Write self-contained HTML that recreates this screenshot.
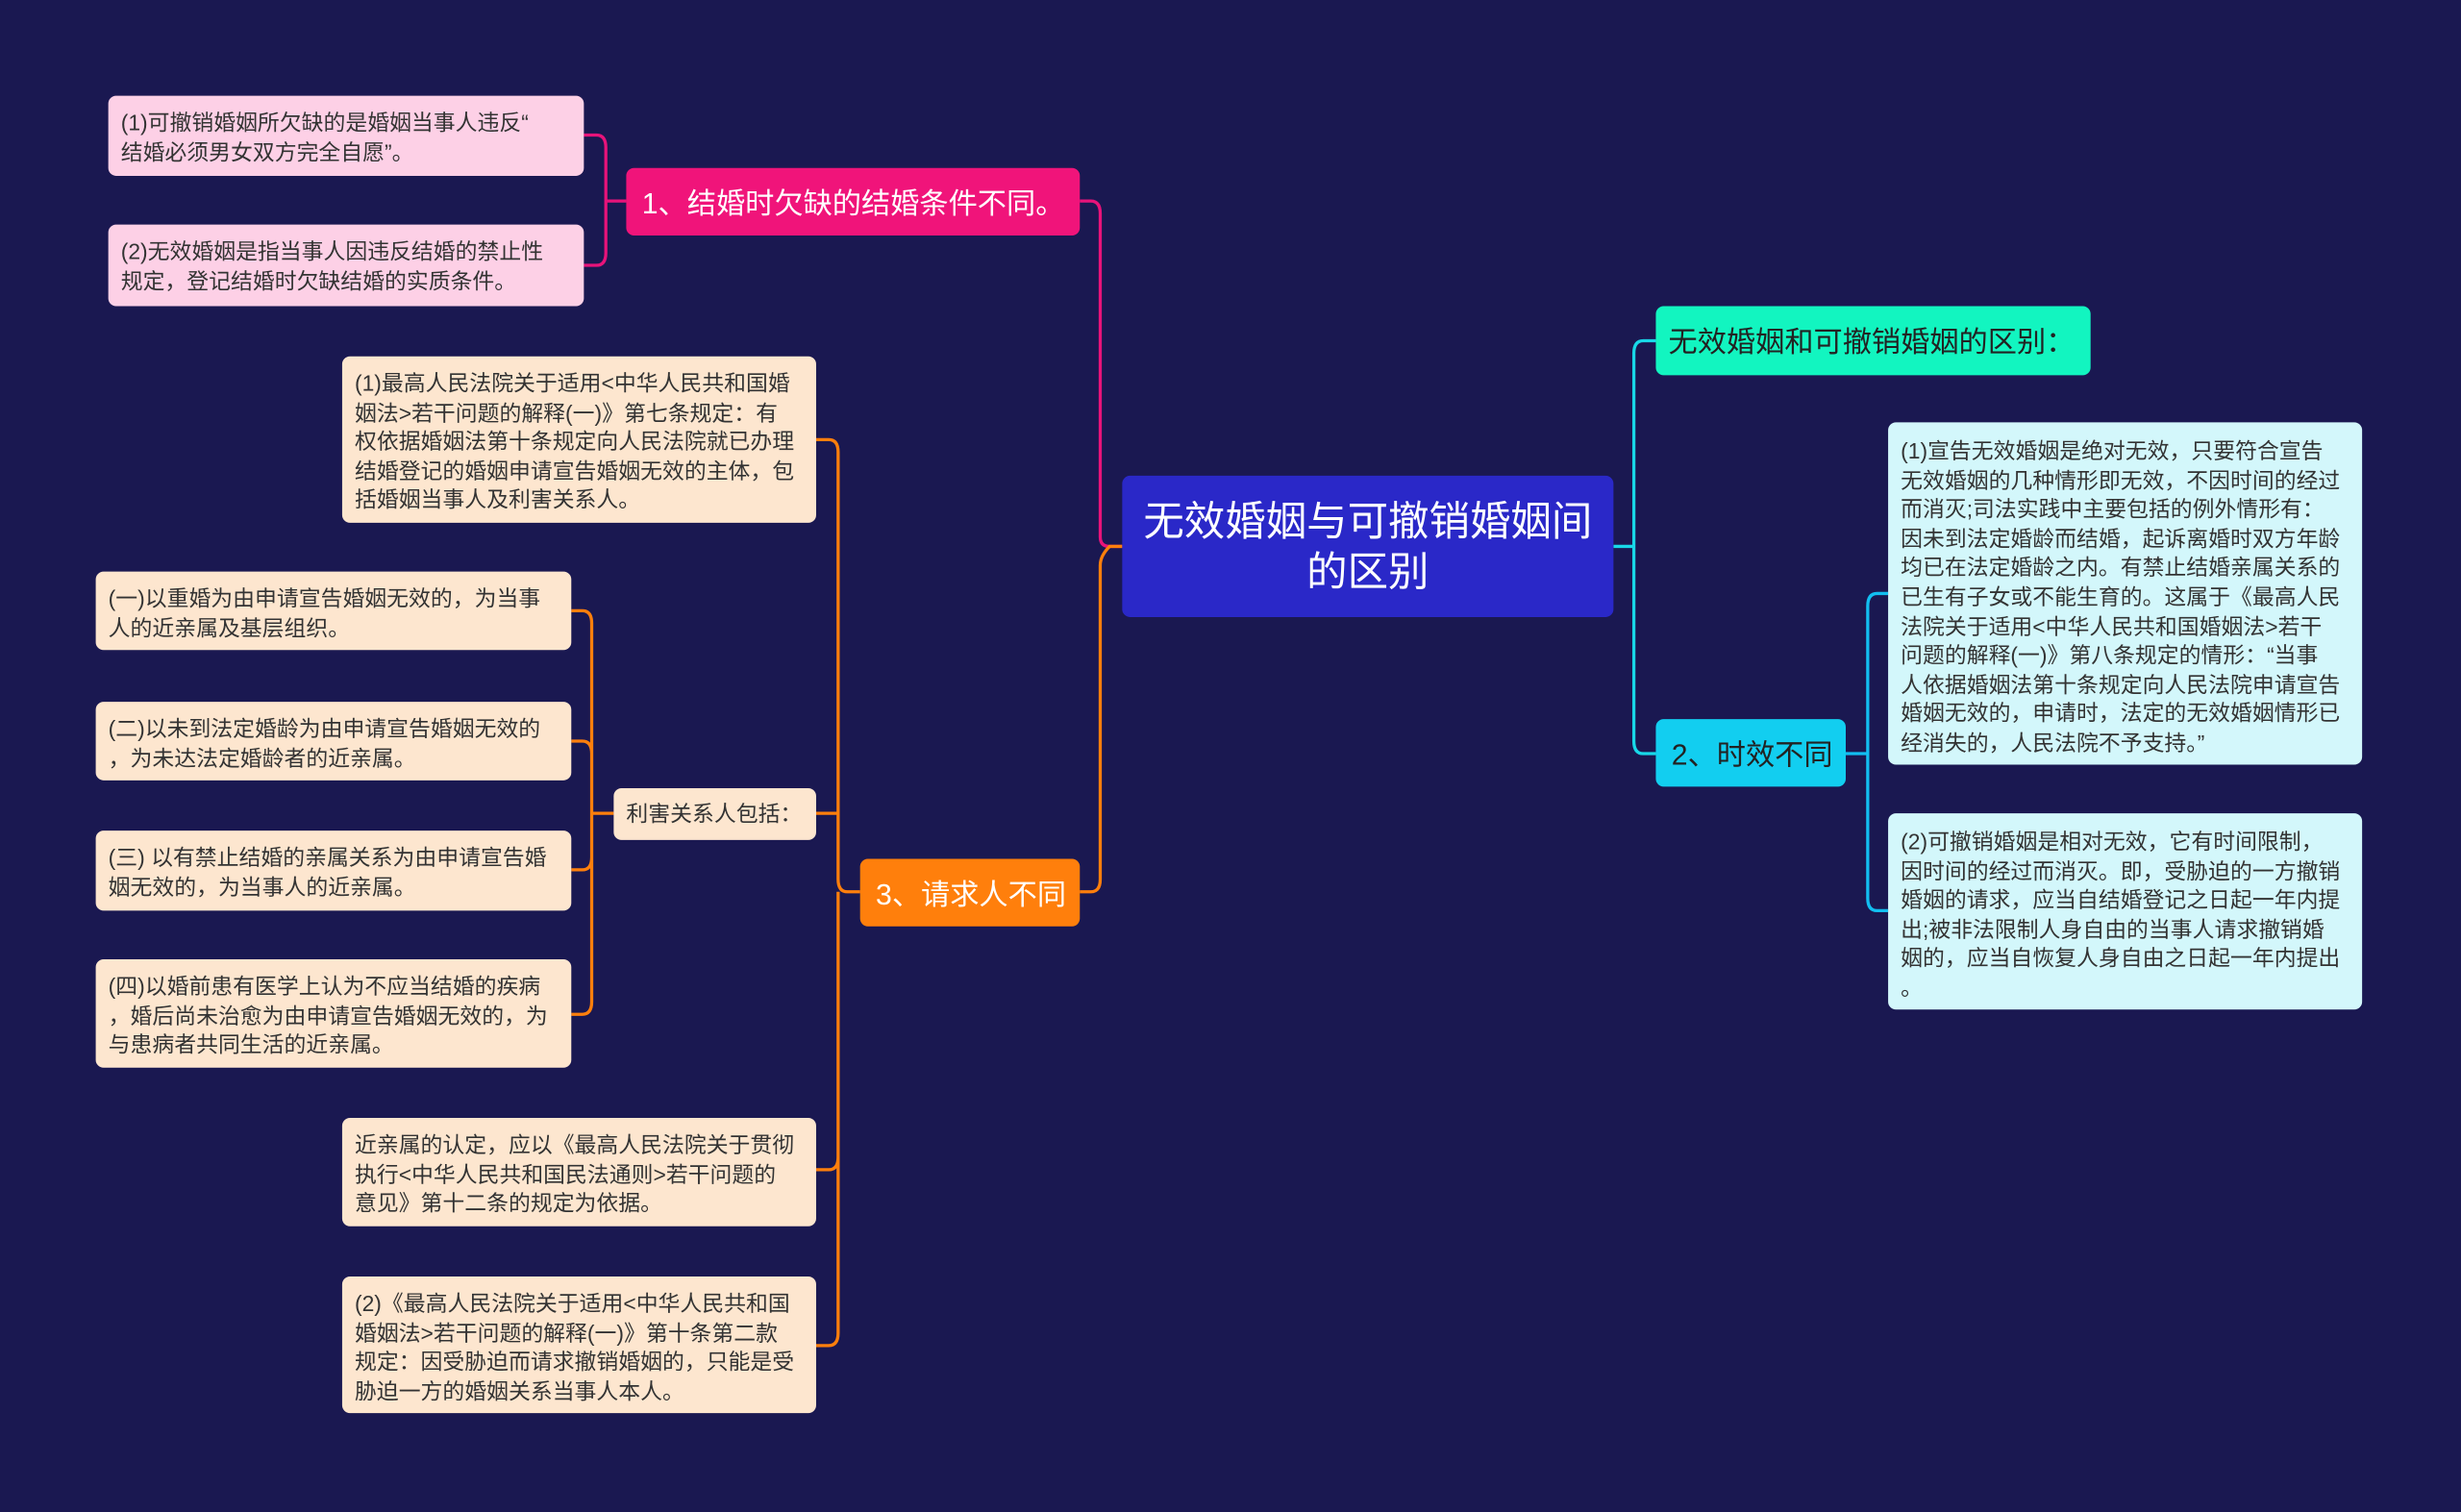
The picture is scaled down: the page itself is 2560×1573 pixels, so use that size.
<!DOCTYPE html>
<html><head><meta charset="utf-8"><style>
html,body{margin:0;padding:0;background:#1a1851;width:2560px;height:1573px;overflow:hidden}
#s{position:absolute;left:0;top:0;width:1568px;height:963px;transform-origin:0 0;transform:scale(1.63265,1.63344);font-family:"Liberation Sans","Noto Sans CJK SC",sans-serif}
.n{position:absolute;box-sizing:border-box;border-radius:5px;white-space:nowrap}
.l{font-size:14px;line-height:18.6px;color:#333;padding:8px 8px 6px}
.m{font-size:18.5px;display:flex;align-items:center;padding:0 10px}
svg{position:absolute;left:0;top:0}
</style></head><body><div id="s">
<svg width="1568" height="963" fill="none" stroke-width="2">
<g stroke="#e8137a"><path d="M715 348H707Q701 348 701 342V136Q701 128 695 128H688"/><path d="M399 128H386M386 128V94Q386 86 380 86H372M386 128V161Q386 169 380 169H372"/></g>
<g stroke="#ff7f0c"><path d="M715 348H707Q701 354 701 360V560Q701 568 695 568H688"/><path d="M548 568H540Q534 568 534 560V288Q534 280 528 280H520M534 518H520M534 568V737Q534 745 528 745H520M534 737V849Q534 857 528 857H520"/><path d="M391 518H377M377 518V397Q377 389 371 389H364M377 480Q377 472 371 472H364M377 518V546Q377 554 371 554H364M377 518V638Q377 646 371 646H364"/></g>
<g stroke="#18d8e8"><path d="M1028 348H1041M1041 348V225Q1041 217 1047 217H1055M1041 348V472Q1041 480 1047 480H1055"/></g>
<g stroke="#12bef0"><path d="M1176 480H1190M1190 480V386Q1190 378 1196 378H1203M1190 480V572Q1190 580 1196 580H1203"/></g>
</svg>
<div class="n" style="left:715px;top:303px;width:313px;height:90px;background:#2a28c8;color:#fff;font-size:26px;line-height:32px;text-align:center;padding-top:13px">无效婚姻与可撤销婚姻间<br>的区别</div>
<div class="n m" style="left:399px;top:107px;width:289px;height:43px;background:#f0147a;color:#fff">1、结婚时欠缺的结婚条件不同。</div>
<div class="n l" style="left:69px;top:61px;width:303px;height:51px;background:#fdd0e6">(1)可撤销婚姻所欠缺的是婚姻当事人违反“<br>结婚必须男女双方完全自愿”。</div>
<div class="n l" style="left:69px;top:143px;width:303px;height:52px;background:#fdd0e6">(2)无效婚姻是指当事人因违反结婚的禁止性<br>规定，登记结婚时欠缺结婚的实质条件。</div>
<div class="n m" style="left:1055px;top:195px;width:277px;height:44px;background:#12f5c0;color:#222;padding-left:8px">无效婚姻和可撤销婚姻的区别：</div>
<div class="n m" style="left:1055px;top:458px;width:121px;height:43px;background:#12cef0;color:#222">2、时效不同</div>
<div class="n l" style="left:1203px;top:269px;width:302px;height:218px;background:#d3f7fb;padding-top:9px">(1)宣告无效婚姻是绝对无效，只要符合宣告<br>无效婚姻的几种情形即无效，不因时间的经过<br>而消灭;司法实践中主要包括的例外情形有：<br>因未到法定婚龄而结婚，起诉离婚时双方年龄<br>均已在法定婚龄之内。有禁止结婚亲属关系的<br>已生有子女或不能生育的。这属于《最高人民<br>法院关于适用&lt;中华人民共和国婚姻法&gt;若干<br>问题的解释(一)》第八条规定的情形：“当事<br>人依据婚姻法第十条规定向人民法院申请宣告<br>婚姻无效的，申请时，法定的无效婚姻情形已<br>经消失的，人民法院不予支持。”</div>
<div class="n l" style="left:1203px;top:518px;width:302px;height:125px;background:#d3f7fb;padding-top:9px">(2)可撤销婚姻是相对无效，它有时间限制，<br>因时间的经过而消灭。即，受胁迫的一方撤销<br>婚姻的请求，应当自结婚登记之日起一年内提<br>出;被非法限制人身自由的当事人请求撤销婚<br>姻的，应当自恢复人身自由之日起一年内提出<br>。</div>
<div class="n m" style="left:548px;top:547px;width:140px;height:43px;background:#ff7f0c;color:#fff">3、请求人不同</div>
<div class="n l" style="left:218px;top:227px;width:302px;height:106px;background:#fde6cf">(1)最高人民法院关于适用&lt;中华人民共和国婚<br>姻法&gt;若干问题的解释(一)》第七条规定：有<br>权依据婚姻法第十条规定向人民法院就已办理<br>结婚登记的婚姻申请宣告婚姻无效的主体，包<br>括婚姻当事人及利害关系人。</div>
<div class="n l" style="left:391px;top:502px;width:129px;height:33px;background:#fde6cf;padding-top:7px">利害关系人包括：</div>
<div class="n l" style="left:61px;top:364px;width:303px;height:50px;background:#fde6cf">(一)以重婚为由申请宣告婚姻无效的，为当事<br>人的近亲属及基层组织。</div>
<div class="n l" style="left:61px;top:447px;width:303px;height:50px;background:#fde6cf">(二)以未到法定婚龄为由申请宣告婚姻无效的<br>，为未达法定婚龄者的近亲属。</div>
<div class="n l" style="left:61px;top:529px;width:303px;height:51px;background:#fde6cf">(三) 以有禁止结婚的亲属关系为由申请宣告婚<br>姻无效的，为当事人的近亲属。</div>
<div class="n l" style="left:61px;top:611px;width:303px;height:69px;background:#fde6cf">(四)以婚前患有医学上认为不应当结婚的疾病<br>，婚后尚未治愈为由申请宣告婚姻无效的，为<br>与患病者共同生活的近亲属。</div>
<div class="n l" style="left:218px;top:712px;width:302px;height:69px;background:#fde6cf">近亲属的认定，应以《最高人民法院关于贯彻<br>执行&lt;中华人民共和国民法通则&gt;若干问题的<br>意见》第十二条的规定为依据。</div>
<div class="n l" style="left:218px;top:813px;width:302px;height:87px;background:#fde6cf">(2)《最高人民法院关于适用&lt;中华人民共和国<br>婚姻法&gt;若干问题的解释(一)》第十条第二款<br>规定：因受胁迫而请求撤销婚姻的，只能是受<br>胁迫一方的婚姻关系当事人本人。</div>
</div></body></html>
